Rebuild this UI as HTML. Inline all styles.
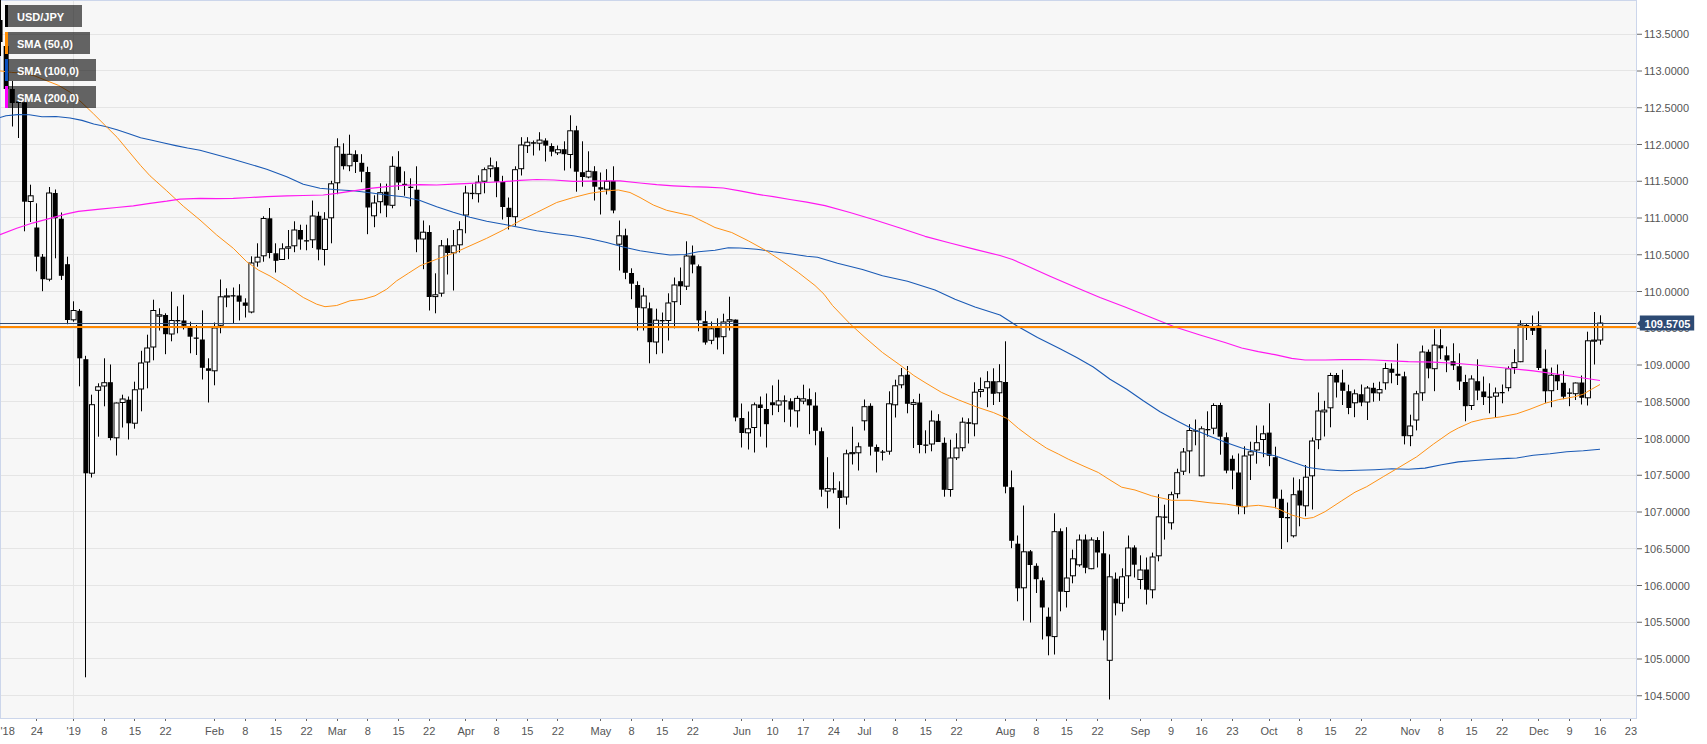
<!DOCTYPE html><html><head><meta charset="utf-8"><title>USD/JPY daily chart</title>
<style>html,body{margin:0;padding:0;background:#fff}body{width:1707px;height:744px;overflow:hidden}svg{display:block}text{font-family:"Liberation Sans",Arial,sans-serif}</style></head><body>
<svg width="1707" height="744" viewBox="0 0 1707 744">
<rect x="0" y="0" width="1707" height="744" fill="#fff"/>
<rect x="0" y="0" width="1636.5" height="718.5" fill="#f7f7f7"/>
<g stroke="#e5e5e5" stroke-width="1" shape-rendering="crispEdges">
<line x1="0" y1="34.5" x2="1636.5" y2="34.5"/>
<line x1="0" y1="70.5" x2="1636.5" y2="70.5"/>
<line x1="0" y1="107.5" x2="1636.5" y2="107.5"/>
<line x1="0" y1="144.5" x2="1636.5" y2="144.5"/>
<line x1="0" y1="181.5" x2="1636.5" y2="181.5"/>
<line x1="0" y1="217.5" x2="1636.5" y2="217.5"/>
<line x1="0" y1="254.5" x2="1636.5" y2="254.5"/>
<line x1="0" y1="291.5" x2="1636.5" y2="291.5"/>
<line x1="0" y1="328.5" x2="1636.5" y2="328.5"/>
<line x1="0" y1="364.5" x2="1636.5" y2="364.5"/>
<line x1="0" y1="401.5" x2="1636.5" y2="401.5"/>
<line x1="0" y1="438.5" x2="1636.5" y2="438.5"/>
<line x1="0" y1="475.5" x2="1636.5" y2="475.5"/>
<line x1="0" y1="511.5" x2="1636.5" y2="511.5"/>
<line x1="0" y1="548.5" x2="1636.5" y2="548.5"/>
<line x1="0" y1="585.5" x2="1636.5" y2="585.5"/>
<line x1="0" y1="622.5" x2="1636.5" y2="622.5"/>
<line x1="0" y1="658.5" x2="1636.5" y2="658.5"/>
<line x1="0" y1="695.5" x2="1636.5" y2="695.5"/>
<line x1="73.5" y1="0" x2="73.5" y2="718.5"/>
</g>
<g stroke="#ccd6eb" stroke-width="1" fill="none"><line x1="0" y1="0.5" x2="1636.5" y2="0.5"/><line x1="0.5" y1="0" x2="0.5" y2="718.5"/><line x1="1636.5" y1="0" x2="1636.5" y2="718.5"/><line x1="0" y1="718.5" x2="1637.0" y2="718.5"/></g>
<clipPath id="pc"><rect x="0" y="0" width="1636.5" height="718.5"/></clipPath>
<g clip-path="url(#pc)">
<g stroke="#000" stroke-width="1">
<line x1="0.50" y1="0.0" x2="0.50" y2="56.0"/>
<rect x="-2.47" y="20.0" width="5" height="22.0" fill="#000" stroke="none"/>
<line x1="6.50" y1="40.0" x2="6.50" y2="89.0"/>
<rect x="3.66" y="46.0" width="5" height="43.0" fill="#000" stroke="none"/>
<line x1="12.50" y1="81.0" x2="12.50" y2="126.5"/>
<rect x="9.79" y="89.0" width="5" height="14.0" fill="#000" stroke="none"/>
<line x1="18.50" y1="101.0" x2="18.50" y2="138.0"/>
<rect x="15.92" y="101.5" width="5" height="1.5" fill="#000" stroke="none"/>
<line x1="24.50" y1="102.3" x2="24.50" y2="231.3"/>
<rect x="22.05" y="102.3" width="5" height="99.4" fill="#000" stroke="none"/>
<line x1="30.50" y1="184.7" x2="30.50" y2="222.0"/>
<rect x="28.18" y="195.8" width="5" height="5.7" fill="#fff"/>
<line x1="36.50" y1="203.3" x2="36.50" y2="271.3"/>
<rect x="34.31" y="227.5" width="5" height="29.2" fill="#000" stroke="none"/>
<line x1="42.50" y1="254.0" x2="42.50" y2="291.2"/>
<rect x="40.44" y="256.7" width="5" height="22.5" fill="#000" stroke="none"/>
<line x1="49.50" y1="187.0" x2="49.50" y2="281.3"/>
<rect x="46.58" y="193.0" width="5" height="86.2" fill="#fff"/>
<line x1="55.50" y1="189.5" x2="55.50" y2="258.3"/>
<rect x="52.71" y="193.0" width="5" height="25.3" fill="#000" stroke="none"/>
<line x1="61.50" y1="212.5" x2="61.50" y2="280.0"/>
<rect x="58.84" y="218.7" width="5" height="57.1" fill="#000" stroke="none"/>
<line x1="67.50" y1="256.7" x2="67.50" y2="324.2"/>
<rect x="64.97" y="264.2" width="5" height="55.8" fill="#000" stroke="none"/>
<line x1="73.50" y1="301.3" x2="73.50" y2="321.7"/>
<rect x="71.10" y="310.5" width="5" height="9.3" fill="#fff"/>
<line x1="79.50" y1="309.0" x2="79.50" y2="386.3"/>
<rect x="77.23" y="310.8" width="5" height="47.5" fill="#000" stroke="none"/>
<line x1="85.50" y1="355.8" x2="85.50" y2="677.3"/>
<rect x="83.36" y="359.2" width="5" height="114.1" fill="#000" stroke="none"/>
<line x1="91.50" y1="394.7" x2="91.50" y2="477.5"/>
<rect x="89.49" y="404.7" width="5" height="68.5" fill="#fff"/>
<line x1="98.50" y1="383.3" x2="98.50" y2="436.7"/>
<rect x="95.62" y="386.8" width="5" height="3.5" fill="#fff"/>
<line x1="104.50" y1="358.3" x2="104.50" y2="406.3"/>
<rect x="101.75" y="382.7" width="5" height="3.3" fill="#fff"/>
<line x1="110.50" y1="364.5" x2="110.50" y2="440.3"/>
<rect x="107.89" y="382.2" width="5" height="55.8" fill="#000" stroke="none"/>
<line x1="116.50" y1="402.5" x2="116.50" y2="455.5"/>
<rect x="114.02" y="403.0" width="5" height="34.8" fill="#fff"/>
<line x1="122.50" y1="394.7" x2="122.50" y2="427.5"/>
<rect x="120.15" y="399.0" width="5" height="3.5" fill="#fff"/>
<line x1="128.50" y1="396.5" x2="128.50" y2="439.5"/>
<rect x="126.28" y="399.7" width="5" height="23.6" fill="#000" stroke="none"/>
<line x1="134.50" y1="381.7" x2="134.50" y2="428.7"/>
<rect x="132.41" y="389.8" width="5" height="33.4" fill="#fff"/>
<line x1="141.50" y1="350.8" x2="141.50" y2="411.3"/>
<rect x="138.54" y="363.0" width="5" height="26.0" fill="#fff"/>
<line x1="147.50" y1="334.7" x2="147.50" y2="388.3"/>
<rect x="144.67" y="348.0" width="5" height="14.0" fill="#fff"/>
<line x1="153.50" y1="299.7" x2="153.50" y2="360.3"/>
<rect x="150.80" y="310.5" width="5" height="36.5" fill="#fff"/>
<line x1="159.50" y1="308.3" x2="159.50" y2="330.5"/>
<rect x="156.93" y="314.8" width="5" height="1.4" fill="#fff"/>
<line x1="165.50" y1="313.3" x2="165.50" y2="354.2"/>
<rect x="163.06" y="315.0" width="5" height="19.2" fill="#000" stroke="none"/>
<line x1="171.50" y1="291.7" x2="171.50" y2="341.3"/>
<rect x="169.20" y="320.5" width="5" height="13.5" fill="#fff"/>
<line x1="177.50" y1="306.3" x2="177.50" y2="333.3"/>
<rect x="175.33" y="320.0" width="5" height="1.3" fill="#000" stroke="none"/>
<line x1="183.50" y1="294.7" x2="183.50" y2="329.5"/>
<rect x="181.46" y="320.5" width="5" height="5.3" fill="#000" stroke="none"/>
<line x1="190.50" y1="321.7" x2="190.50" y2="353.3"/>
<rect x="187.59" y="326.7" width="5" height="10.0" fill="#000" stroke="none"/>
<line x1="196.50" y1="325.0" x2="196.50" y2="355.0"/>
<rect x="193.72" y="337.5" width="5" height="1.3" fill="#000" stroke="none"/>
<line x1="202.50" y1="310.3" x2="202.50" y2="379.5"/>
<rect x="199.85" y="339.5" width="5" height="28.3" fill="#000" stroke="none"/>
<line x1="208.50" y1="358.3" x2="208.50" y2="402.5"/>
<rect x="205.98" y="368.3" width="5" height="2.5" fill="#000" stroke="none"/>
<line x1="214.50" y1="322.5" x2="214.50" y2="385.3"/>
<rect x="212.11" y="328.0" width="5" height="42.8" fill="#fff"/>
<line x1="220.50" y1="279.5" x2="220.50" y2="333.3"/>
<rect x="218.24" y="296.8" width="5" height="28.5" fill="#fff"/>
<line x1="226.50" y1="288.3" x2="226.50" y2="307.2"/>
<rect x="224.38" y="295.9" width="5" height="1.1" fill="#fff"/>
<line x1="233.50" y1="287.5" x2="233.50" y2="323.3"/>
<rect x="230.51" y="295.2" width="5" height="1.3" fill="#000" stroke="none"/>
<line x1="239.50" y1="284.2" x2="239.50" y2="320.5"/>
<rect x="236.64" y="295.5" width="5" height="6.2" fill="#000" stroke="none"/>
<line x1="245.50" y1="298.3" x2="245.50" y2="317.5"/>
<rect x="242.77" y="302.5" width="5" height="3.3" fill="#000" stroke="none"/>
<line x1="251.50" y1="256.3" x2="251.50" y2="313.3"/>
<rect x="248.90" y="263.0" width="5" height="49.0" fill="#fff"/>
<line x1="257.50" y1="243.3" x2="257.50" y2="266.7"/>
<rect x="255.03" y="257.2" width="5" height="4.8" fill="#fff"/>
<line x1="263.50" y1="216.3" x2="263.50" y2="261.7"/>
<rect x="261.16" y="218.5" width="5" height="37.3" fill="#fff"/>
<line x1="269.50" y1="208.0" x2="269.50" y2="258.3"/>
<rect x="267.29" y="218.3" width="5" height="34.7" fill="#000" stroke="none"/>
<line x1="275.50" y1="243.3" x2="275.50" y2="272.5"/>
<rect x="273.42" y="253.3" width="5" height="7.5" fill="#000" stroke="none"/>
<line x1="282.50" y1="243.3" x2="282.50" y2="260.0"/>
<rect x="279.55" y="248.8" width="5" height="10.7" fill="#fff"/>
<line x1="288.50" y1="230.0" x2="288.50" y2="259.2"/>
<rect x="285.69" y="246.8" width="5" height="1.4" fill="#fff"/>
<line x1="294.50" y1="221.3" x2="294.50" y2="252.2"/>
<rect x="291.82" y="230.0" width="5" height="15.8" fill="#fff"/>
<line x1="300.50" y1="224.7" x2="300.50" y2="249.7"/>
<rect x="297.95" y="230.0" width="5" height="9.5" fill="#000" stroke="none"/>
<line x1="306.50" y1="224.7" x2="306.50" y2="250.3"/>
<rect x="304.08" y="240.2" width="5" height="1.3" fill="#000" stroke="none"/>
<line x1="312.50" y1="200.5" x2="312.50" y2="248.0"/>
<rect x="310.21" y="216.0" width="5" height="23.8" fill="#fff"/>
<line x1="318.50" y1="211.7" x2="318.50" y2="260.3"/>
<rect x="316.34" y="215.8" width="5" height="33.7" fill="#000" stroke="none"/>
<line x1="324.50" y1="212.2" x2="324.50" y2="265.5"/>
<rect x="322.47" y="219.2" width="5" height="30.3" fill="#fff"/>
<line x1="331.50" y1="180.8" x2="331.50" y2="243.3"/>
<rect x="328.60" y="183.8" width="5" height="34.0" fill="#fff"/>
<line x1="337.50" y1="138.3" x2="337.50" y2="194.2"/>
<rect x="334.73" y="146.8" width="5" height="36.0" fill="#fff"/>
<line x1="343.50" y1="143.3" x2="343.50" y2="169.5"/>
<rect x="340.86" y="153.8" width="5" height="12.4" fill="#000" stroke="none"/>
<line x1="349.50" y1="134.7" x2="349.50" y2="171.2"/>
<rect x="347.00" y="154.3" width="5" height="11.5" fill="#fff"/>
<line x1="355.50" y1="150.3" x2="355.50" y2="173.0"/>
<rect x="353.13" y="154.2" width="5" height="7.8" fill="#000" stroke="none"/>
<line x1="361.50" y1="154.2" x2="361.50" y2="182.2"/>
<rect x="359.26" y="162.8" width="5" height="8.9" fill="#000" stroke="none"/>
<line x1="367.50" y1="166.7" x2="367.50" y2="234.2"/>
<rect x="365.39" y="172.0" width="5" height="35.5" fill="#000" stroke="none"/>
<line x1="374.50" y1="195.3" x2="374.50" y2="227.2"/>
<rect x="371.52" y="203.0" width="5" height="12.8" fill="#fff"/>
<line x1="380.50" y1="183.3" x2="380.50" y2="213.3"/>
<rect x="377.65" y="192.7" width="5" height="9.0" fill="#fff"/>
<line x1="386.50" y1="183.7" x2="386.50" y2="217.2"/>
<rect x="383.78" y="191.7" width="5" height="13.8" fill="#000" stroke="none"/>
<line x1="392.50" y1="156.3" x2="392.50" y2="208.3"/>
<rect x="389.91" y="166.3" width="5" height="39.0" fill="#fff"/>
<line x1="398.50" y1="151.2" x2="398.50" y2="190.0"/>
<rect x="396.04" y="166.7" width="5" height="15.8" fill="#000" stroke="none"/>
<line x1="404.50" y1="171.3" x2="404.50" y2="195.8"/>
<rect x="402.17" y="183.8" width="5" height="1.3" fill="#000" stroke="none"/>
<line x1="410.50" y1="178.3" x2="410.50" y2="206.3"/>
<rect x="408.31" y="186.7" width="5" height="1.3" fill="#000" stroke="none"/>
<line x1="416.50" y1="166.3" x2="416.50" y2="252.2"/>
<rect x="414.44" y="189.7" width="5" height="49.8" fill="#000" stroke="none"/>
<line x1="423.50" y1="220.5" x2="423.50" y2="269.2"/>
<rect x="420.57" y="232.2" width="5" height="6.8" fill="#fff"/>
<line x1="429.50" y1="225.3" x2="429.50" y2="310.5"/>
<rect x="426.70" y="232.0" width="5" height="65.0" fill="#000" stroke="none"/>
<line x1="435.50" y1="273.3" x2="435.50" y2="313.3"/>
<rect x="432.83" y="294.8" width="5" height="1.8" fill="#fff"/>
<line x1="441.50" y1="240.0" x2="441.50" y2="296.7"/>
<rect x="438.96" y="245.8" width="5" height="47.4" fill="#fff"/>
<line x1="447.50" y1="238.3" x2="447.50" y2="274.5"/>
<rect x="445.09" y="245.3" width="5" height="7.7" fill="#000" stroke="none"/>
<line x1="453.50" y1="230.0" x2="453.50" y2="290.5"/>
<rect x="451.22" y="245.8" width="5" height="7.0" fill="#fff"/>
<line x1="459.50" y1="221.2" x2="459.50" y2="252.5"/>
<rect x="457.35" y="229.7" width="5" height="15.1" fill="#fff"/>
<line x1="465.50" y1="185.8" x2="465.50" y2="233.3"/>
<rect x="463.48" y="193.0" width="5" height="22.0" fill="#fff"/>
<line x1="472.50" y1="184.2" x2="472.50" y2="199.2"/>
<rect x="469.62" y="192.8" width="5" height="1.3" fill="#000" stroke="none"/>
<line x1="478.50" y1="175.3" x2="478.50" y2="202.5"/>
<rect x="475.75" y="182.2" width="5" height="11.5" fill="#fff"/>
<line x1="484.50" y1="167.5" x2="484.50" y2="193.3"/>
<rect x="481.88" y="169.7" width="5" height="11.5" fill="#fff"/>
<line x1="490.50" y1="157.5" x2="490.50" y2="177.2"/>
<rect x="488.01" y="165.9" width="5" height="2.8" fill="#fff"/>
<line x1="496.50" y1="161.3" x2="496.50" y2="197.2"/>
<rect x="494.14" y="167.2" width="5" height="14.5" fill="#000" stroke="none"/>
<line x1="502.50" y1="175.8" x2="502.50" y2="219.5"/>
<rect x="500.27" y="182.0" width="5" height="25.0" fill="#000" stroke="none"/>
<line x1="508.50" y1="197.5" x2="508.50" y2="229.5"/>
<rect x="506.40" y="207.8" width="5" height="9.2" fill="#000" stroke="none"/>
<line x1="515.50" y1="166.3" x2="515.50" y2="225.8"/>
<rect x="512.53" y="169.7" width="5" height="47.0" fill="#fff"/>
<line x1="521.50" y1="137.2" x2="521.50" y2="175.5"/>
<rect x="518.66" y="145.0" width="5" height="23.7" fill="#fff"/>
<line x1="527.50" y1="137.2" x2="527.50" y2="153.0"/>
<rect x="524.79" y="142.2" width="5" height="3.5" fill="#fff"/>
<line x1="533.50" y1="140.5" x2="533.50" y2="155.5"/>
<rect x="530.93" y="142.2" width="5" height="1.5" fill="#000" stroke="none"/>
<line x1="539.50" y1="132.2" x2="539.50" y2="150.5"/>
<rect x="537.06" y="140.1" width="5" height="3.1" fill="#fff"/>
<line x1="545.50" y1="138.3" x2="545.50" y2="161.5"/>
<rect x="543.19" y="140.5" width="5" height="5.1" fill="#000" stroke="none"/>
<line x1="551.50" y1="143.3" x2="551.50" y2="156.3"/>
<rect x="549.32" y="146.0" width="5" height="5.7" fill="#000" stroke="none"/>
<line x1="557.50" y1="145.5" x2="557.50" y2="155.0"/>
<rect x="555.45" y="149.7" width="5" height="3.1" fill="#fff"/>
<line x1="564.50" y1="141.3" x2="564.50" y2="170.5"/>
<rect x="561.58" y="149.2" width="5" height="5.0" fill="#000" stroke="none"/>
<line x1="570.50" y1="115.3" x2="570.50" y2="168.3"/>
<rect x="567.71" y="130.8" width="5" height="23.7" fill="#fff"/>
<line x1="576.50" y1="125.8" x2="576.50" y2="191.7"/>
<rect x="573.84" y="130.3" width="5" height="41.4" fill="#000" stroke="none"/>
<line x1="582.50" y1="141.3" x2="582.50" y2="186.7"/>
<rect x="579.97" y="172.2" width="5" height="4.8" fill="#000" stroke="none"/>
<line x1="588.50" y1="151.3" x2="588.50" y2="178.3"/>
<rect x="586.10" y="171.3" width="5" height="5.7" fill="#fff"/>
<line x1="594.50" y1="166.2" x2="594.50" y2="200.5"/>
<rect x="592.24" y="171.2" width="5" height="15.5" fill="#000" stroke="none"/>
<line x1="600.50" y1="172.5" x2="600.50" y2="214.5"/>
<rect x="598.37" y="187.2" width="5" height="2.3" fill="#000" stroke="none"/>
<line x1="606.50" y1="169.2" x2="606.50" y2="194.5"/>
<rect x="604.50" y="181.3" width="5" height="7.9" fill="#fff"/>
<line x1="613.50" y1="166.3" x2="613.50" y2="213.3"/>
<rect x="610.63" y="180.8" width="5" height="29.7" fill="#000" stroke="none"/>
<line x1="619.50" y1="220.5" x2="619.50" y2="270.5"/>
<rect x="616.76" y="235.8" width="5" height="8.4" fill="#fff"/>
<line x1="625.50" y1="228.7" x2="625.50" y2="279.2"/>
<rect x="622.89" y="235.3" width="5" height="37.5" fill="#000" stroke="none"/>
<line x1="631.50" y1="268.3" x2="631.50" y2="299.2"/>
<rect x="629.02" y="273.0" width="5" height="10.7" fill="#000" stroke="none"/>
<line x1="637.50" y1="281.3" x2="637.50" y2="330.5"/>
<rect x="635.15" y="285.0" width="5" height="22.8" fill="#000" stroke="none"/>
<line x1="643.50" y1="287.8" x2="643.50" y2="330.5"/>
<rect x="641.28" y="296.0" width="5" height="11.8" fill="#fff"/>
<line x1="649.50" y1="302.5" x2="649.50" y2="363.3"/>
<rect x="647.41" y="308.3" width="5" height="33.9" fill="#000" stroke="none"/>
<line x1="656.50" y1="308.7" x2="656.50" y2="354.2"/>
<rect x="653.55" y="320.2" width="5" height="21.8" fill="#fff"/>
<line x1="662.50" y1="312.5" x2="662.50" y2="353.3"/>
<rect x="659.68" y="320.0" width="5" height="1.3" fill="#000" stroke="none"/>
<line x1="668.50" y1="293.3" x2="668.50" y2="340.5"/>
<rect x="665.81" y="303.0" width="5" height="17.5" fill="#fff"/>
<line x1="674.50" y1="277.5" x2="674.50" y2="328.3"/>
<rect x="671.94" y="285.0" width="5" height="16.7" fill="#fff"/>
<line x1="680.50" y1="267.5" x2="680.50" y2="305.0"/>
<rect x="678.07" y="281.2" width="5" height="5.1" fill="#000" stroke="none"/>
<line x1="686.50" y1="241.3" x2="686.50" y2="290.0"/>
<rect x="684.20" y="256.0" width="5" height="30.2" fill="#fff"/>
<line x1="692.50" y1="245.5" x2="692.50" y2="273.3"/>
<rect x="690.33" y="255.5" width="5" height="9.0" fill="#000" stroke="none"/>
<line x1="698.50" y1="264.5" x2="698.50" y2="331.3"/>
<rect x="696.46" y="266.2" width="5" height="54.2" fill="#000" stroke="none"/>
<line x1="705.50" y1="310.8" x2="705.50" y2="344.7"/>
<rect x="702.59" y="321.2" width="5" height="21.3" fill="#000" stroke="none"/>
<line x1="711.50" y1="321.5" x2="711.50" y2="344.2"/>
<rect x="708.72" y="328.8" width="5" height="11.5" fill="#fff"/>
<line x1="717.50" y1="318.3" x2="717.50" y2="349.5"/>
<rect x="714.86" y="327.7" width="5" height="9.8" fill="#000" stroke="none"/>
<line x1="723.50" y1="313.7" x2="723.50" y2="354.2"/>
<rect x="720.99" y="322.0" width="5" height="14.7" fill="#fff"/>
<line x1="729.50" y1="296.7" x2="729.50" y2="330.5"/>
<rect x="727.12" y="319.7" width="5" height="1.5" fill="#fff"/>
<line x1="735.50" y1="319.5" x2="735.50" y2="421.3"/>
<rect x="733.25" y="319.6" width="5" height="97.9" fill="#000" stroke="none"/>
<line x1="741.50" y1="403.5" x2="741.50" y2="447.5"/>
<rect x="739.38" y="418.0" width="5" height="15.0" fill="#000" stroke="none"/>
<line x1="748.50" y1="411.5" x2="748.50" y2="449.5"/>
<rect x="745.51" y="428.8" width="5" height="4.0" fill="#fff"/>
<line x1="754.50" y1="402.5" x2="754.50" y2="452.5"/>
<rect x="751.64" y="404.8" width="5" height="22.7" fill="#fff"/>
<line x1="760.50" y1="396.5" x2="760.50" y2="436.7"/>
<rect x="757.77" y="404.5" width="5" height="3.5" fill="#000" stroke="none"/>
<line x1="766.50" y1="393.5" x2="766.50" y2="447.5"/>
<rect x="763.90" y="409.0" width="5" height="15.2" fill="#000" stroke="none"/>
<line x1="772.50" y1="385.4" x2="772.50" y2="415.2"/>
<rect x="770.03" y="402.3" width="5" height="2.9" fill="#000" stroke="none"/>
<line x1="778.50" y1="379.7" x2="778.50" y2="412.1"/>
<rect x="776.17" y="400.9" width="5" height="4.1" fill="#fff"/>
<line x1="784.50" y1="395.4" x2="784.50" y2="422.2"/>
<rect x="782.30" y="400.3" width="5" height="1.3" fill="#000" stroke="none"/>
<line x1="790.50" y1="398.3" x2="790.50" y2="426.7"/>
<rect x="788.43" y="401.2" width="5" height="8.4" fill="#000" stroke="none"/>
<line x1="797.50" y1="395.8" x2="797.50" y2="427.5"/>
<rect x="794.56" y="398.4" width="5" height="12.4" fill="#fff"/>
<line x1="803.50" y1="384.7" x2="803.50" y2="404.2"/>
<rect x="800.69" y="398.8" width="5" height="2.3" fill="#fff"/>
<line x1="809.50" y1="388.5" x2="809.50" y2="434.2"/>
<rect x="806.82" y="399.2" width="5" height="6.2" fill="#000" stroke="none"/>
<line x1="815.50" y1="392.3" x2="815.50" y2="445.3"/>
<rect x="812.95" y="405.6" width="5" height="25.2" fill="#000" stroke="none"/>
<line x1="821.50" y1="427.5" x2="821.50" y2="496.7"/>
<rect x="819.08" y="431.2" width="5" height="58.5" fill="#000" stroke="none"/>
<line x1="827.50" y1="457.2" x2="827.50" y2="508.3"/>
<rect x="825.21" y="488.6" width="5" height="2.5" fill="#fff"/>
<line x1="833.50" y1="472.3" x2="833.50" y2="493.3"/>
<rect x="831.34" y="488.3" width="5" height="1.3" fill="#000" stroke="none"/>
<line x1="839.50" y1="481.3" x2="839.50" y2="528.7"/>
<rect x="837.48" y="490.3" width="5" height="7.7" fill="#000" stroke="none"/>
<line x1="846.50" y1="449.7" x2="846.50" y2="504.7"/>
<rect x="843.61" y="453.8" width="5" height="43.2" fill="#fff"/>
<line x1="852.50" y1="426.7" x2="852.50" y2="464.5"/>
<rect x="849.74" y="452.6" width="5" height="1.1" fill="#fff"/>
<line x1="858.50" y1="442.5" x2="858.50" y2="470.5"/>
<rect x="855.87" y="446.8" width="5" height="6.0" fill="#fff"/>
<line x1="864.50" y1="399.5" x2="864.50" y2="430.5"/>
<rect x="862.00" y="406.7" width="5" height="14.1" fill="#fff"/>
<line x1="870.50" y1="403.3" x2="870.50" y2="455.5"/>
<rect x="868.13" y="405.8" width="5" height="40.9" fill="#000" stroke="none"/>
<line x1="876.50" y1="444.5" x2="876.50" y2="472.5"/>
<rect x="874.26" y="447.0" width="5" height="4.7" fill="#000" stroke="none"/>
<line x1="882.50" y1="450.0" x2="882.50" y2="460.5"/>
<rect x="880.39" y="451.5" width="5" height="1.3" fill="#000" stroke="none"/>
<line x1="889.50" y1="391.3" x2="889.50" y2="454.7"/>
<rect x="886.52" y="403.8" width="5" height="47.4" fill="#fff"/>
<line x1="895.50" y1="379.7" x2="895.50" y2="417.5"/>
<rect x="892.65" y="385.8" width="5" height="19.0" fill="#fff"/>
<line x1="901.50" y1="368.0" x2="901.50" y2="388.3"/>
<rect x="898.79" y="375.8" width="5" height="9.0" fill="#fff"/>
<line x1="907.50" y1="366.0" x2="907.50" y2="413.3"/>
<rect x="904.92" y="374.7" width="5" height="29.1" fill="#000" stroke="none"/>
<line x1="913.50" y1="399.2" x2="913.50" y2="448.0"/>
<rect x="911.05" y="402.6" width="5" height="1.8" fill="#fff"/>
<line x1="919.50" y1="393.7" x2="919.50" y2="453.3"/>
<rect x="917.18" y="402.5" width="5" height="42.5" fill="#000" stroke="none"/>
<line x1="925.50" y1="430.3" x2="925.50" y2="453.3"/>
<rect x="923.31" y="444.5" width="5" height="1.3" fill="#000" stroke="none"/>
<line x1="931.50" y1="410.5" x2="931.50" y2="451.3"/>
<rect x="929.44" y="421.0" width="5" height="23.0" fill="#fff"/>
<line x1="938.50" y1="414.2" x2="938.50" y2="442.0"/>
<rect x="935.57" y="420.8" width="5" height="21.2" fill="#000" stroke="none"/>
<line x1="944.50" y1="437.5" x2="944.50" y2="496.7"/>
<rect x="941.70" y="442.8" width="5" height="47.0" fill="#000" stroke="none"/>
<line x1="950.50" y1="439.7" x2="950.50" y2="496.7"/>
<rect x="947.83" y="458.0" width="5" height="31.5" fill="#fff"/>
<line x1="956.50" y1="433.3" x2="956.50" y2="460.0"/>
<rect x="953.96" y="448.0" width="5" height="9.8" fill="#fff"/>
<line x1="962.50" y1="417.5" x2="962.50" y2="451.3"/>
<rect x="960.10" y="422.2" width="5" height="25.5" fill="#fff"/>
<line x1="968.50" y1="418.3" x2="968.50" y2="443.5"/>
<rect x="966.23" y="422.2" width="5" height="1.6" fill="#000" stroke="none"/>
<line x1="974.50" y1="382.3" x2="974.50" y2="436.3"/>
<rect x="972.36" y="392.2" width="5" height="31.6" fill="#fff"/>
<line x1="980.50" y1="377.5" x2="980.50" y2="397.3"/>
<rect x="978.49" y="389.6" width="5" height="1.8" fill="#fff"/>
<line x1="987.50" y1="371.2" x2="987.50" y2="407.2"/>
<rect x="984.62" y="381.7" width="5" height="6.1" fill="#fff"/>
<line x1="993.50" y1="368.3" x2="993.50" y2="405.0"/>
<rect x="990.75" y="381.2" width="5" height="12.6" fill="#000" stroke="none"/>
<line x1="999.50" y1="364.2" x2="999.50" y2="402.0"/>
<rect x="996.88" y="381.7" width="5" height="11.1" fill="#fff"/>
<line x1="1005.50" y1="341.3" x2="1005.50" y2="493.3"/>
<rect x="1003.01" y="382.0" width="5" height="104.7" fill="#000" stroke="none"/>
<line x1="1011.50" y1="470.5" x2="1011.50" y2="548.2"/>
<rect x="1009.14" y="487.2" width="5" height="53.6" fill="#000" stroke="none"/>
<line x1="1017.50" y1="535.5" x2="1017.50" y2="601.3"/>
<rect x="1015.27" y="543.7" width="5" height="44.6" fill="#000" stroke="none"/>
<line x1="1023.50" y1="505.5" x2="1023.50" y2="620.5"/>
<rect x="1021.41" y="551.8" width="5" height="36.0" fill="#fff"/>
<line x1="1030.50" y1="550.0" x2="1030.50" y2="622.5"/>
<rect x="1027.54" y="551.3" width="5" height="13.7" fill="#000" stroke="none"/>
<line x1="1036.50" y1="563.3" x2="1036.50" y2="593.0"/>
<rect x="1033.67" y="565.8" width="5" height="13.4" fill="#000" stroke="none"/>
<line x1="1042.50" y1="577.5" x2="1042.50" y2="639.5"/>
<rect x="1039.80" y="580.3" width="5" height="27.2" fill="#000" stroke="none"/>
<line x1="1048.50" y1="607.5" x2="1048.50" y2="655.3"/>
<rect x="1045.93" y="616.7" width="5" height="19.6" fill="#000" stroke="none"/>
<line x1="1054.50" y1="513.3" x2="1054.50" y2="654.5"/>
<rect x="1052.06" y="531.7" width="5" height="104.9" fill="#fff"/>
<line x1="1060.50" y1="528.4" x2="1060.50" y2="611.3"/>
<rect x="1058.19" y="531.2" width="5" height="60.5" fill="#000" stroke="none"/>
<line x1="1066.50" y1="527.2" x2="1066.50" y2="607.5"/>
<rect x="1064.32" y="578.0" width="5" height="13.5" fill="#fff"/>
<line x1="1072.50" y1="549.6" x2="1072.50" y2="583.3"/>
<rect x="1070.45" y="558.8" width="5" height="17.0" fill="#fff"/>
<line x1="1079.50" y1="534.5" x2="1079.50" y2="566.7"/>
<rect x="1076.58" y="540.0" width="5" height="24.8" fill="#fff"/>
<line x1="1085.50" y1="534.5" x2="1085.50" y2="573.3"/>
<rect x="1082.71" y="539.5" width="5" height="28.3" fill="#000" stroke="none"/>
<line x1="1091.50" y1="537.3" x2="1091.50" y2="569.2"/>
<rect x="1088.85" y="540.0" width="5" height="28.7" fill="#fff"/>
<line x1="1097.50" y1="537.2" x2="1097.50" y2="567.5"/>
<rect x="1094.98" y="540.0" width="5" height="12.5" fill="#000" stroke="none"/>
<line x1="1103.50" y1="531.3" x2="1103.50" y2="640.4"/>
<rect x="1101.11" y="553.3" width="5" height="77.1" fill="#000" stroke="none"/>
<line x1="1109.50" y1="554.4" x2="1109.50" y2="699.5"/>
<rect x="1107.24" y="576.8" width="5" height="83.5" fill="#fff"/>
<line x1="1115.50" y1="572.5" x2="1115.50" y2="615.4"/>
<rect x="1113.37" y="578.7" width="5" height="24.6" fill="#000" stroke="none"/>
<line x1="1122.50" y1="568.3" x2="1122.50" y2="611.5"/>
<rect x="1119.50" y="576.8" width="5" height="26.5" fill="#fff"/>
<line x1="1128.50" y1="535.5" x2="1128.50" y2="598.3"/>
<rect x="1125.63" y="548.0" width="5" height="27.8" fill="#fff"/>
<line x1="1134.50" y1="545.3" x2="1134.50" y2="577.5"/>
<rect x="1131.76" y="547.5" width="5" height="17.2" fill="#000" stroke="none"/>
<line x1="1140.50" y1="555.3" x2="1140.50" y2="589.2"/>
<rect x="1137.89" y="570.0" width="5" height="9.5" fill="#fff"/>
<line x1="1146.50" y1="557.5" x2="1146.50" y2="604.5"/>
<rect x="1144.02" y="569.5" width="5" height="20.2" fill="#000" stroke="none"/>
<line x1="1152.50" y1="552.6" x2="1152.50" y2="598.3"/>
<rect x="1150.16" y="557.0" width="5" height="32.8" fill="#fff"/>
<line x1="1158.50" y1="494.2" x2="1158.50" y2="561.3"/>
<rect x="1156.29" y="516.8" width="5" height="39.0" fill="#fff"/>
<line x1="1164.50" y1="504.7" x2="1164.50" y2="539.6"/>
<rect x="1162.42" y="516.5" width="5" height="1.3" fill="#000" stroke="none"/>
<line x1="1171.50" y1="491.7" x2="1171.50" y2="529.5"/>
<rect x="1168.55" y="494.7" width="5" height="28.1" fill="#fff"/>
<line x1="1177.50" y1="468.7" x2="1177.50" y2="498.3"/>
<rect x="1174.68" y="472.7" width="5" height="21.0" fill="#fff"/>
<line x1="1183.50" y1="448.0" x2="1183.50" y2="475.0"/>
<rect x="1180.81" y="452.0" width="5" height="19.2" fill="#fff"/>
<line x1="1189.50" y1="424.2" x2="1189.50" y2="473.3"/>
<rect x="1186.94" y="430.5" width="5" height="20.4" fill="#fff"/>
<line x1="1195.50" y1="419.5" x2="1195.50" y2="445.3"/>
<rect x="1193.07" y="430.3" width="5" height="1.3" fill="#000" stroke="none"/>
<line x1="1201.50" y1="426.3" x2="1201.50" y2="476.3"/>
<rect x="1199.20" y="428.8" width="5" height="47.0" fill="#fff"/>
<line x1="1207.50" y1="411.3" x2="1207.50" y2="436.7"/>
<rect x="1205.34" y="429.0" width="5" height="1.3" fill="#000" stroke="none"/>
<line x1="1213.50" y1="403.3" x2="1213.50" y2="434.2"/>
<rect x="1211.47" y="405.5" width="5" height="22.7" fill="#fff"/>
<line x1="1220.50" y1="402.8" x2="1220.50" y2="454.7"/>
<rect x="1217.60" y="405.0" width="5" height="31.7" fill="#000" stroke="none"/>
<line x1="1226.50" y1="432.5" x2="1226.50" y2="473.3"/>
<rect x="1223.73" y="437.2" width="5" height="33.4" fill="#000" stroke="none"/>
<line x1="1232.50" y1="455.4" x2="1232.50" y2="489.3"/>
<rect x="1229.86" y="458.8" width="5" height="11.8" fill="#000" stroke="none"/>
<line x1="1238.50" y1="453.5" x2="1238.50" y2="514.3"/>
<rect x="1235.99" y="472.5" width="5" height="33.7" fill="#000" stroke="none"/>
<line x1="1244.50" y1="446.3" x2="1244.50" y2="514.2"/>
<rect x="1242.12" y="456.0" width="5" height="50.7" fill="#fff"/>
<line x1="1250.50" y1="441.7" x2="1250.50" y2="480.0"/>
<rect x="1248.25" y="451.8" width="5" height="3.2" fill="#fff"/>
<line x1="1256.50" y1="425.5" x2="1256.50" y2="463.7"/>
<rect x="1254.38" y="442.7" width="5" height="7.3" fill="#fff"/>
<line x1="1263.50" y1="425.5" x2="1263.50" y2="457.2"/>
<rect x="1260.51" y="433.8" width="5" height="5.7" fill="#fff"/>
<line x1="1269.50" y1="403.3" x2="1269.50" y2="466.2"/>
<rect x="1266.64" y="432.6" width="5" height="23.2" fill="#000" stroke="none"/>
<line x1="1275.50" y1="446.7" x2="1275.50" y2="508.3"/>
<rect x="1272.78" y="457.2" width="5" height="41.5" fill="#000" stroke="none"/>
<line x1="1281.50" y1="489.7" x2="1281.50" y2="549.0"/>
<rect x="1278.91" y="498.8" width="5" height="19.2" fill="#000" stroke="none"/>
<line x1="1287.50" y1="502.5" x2="1287.50" y2="542.2"/>
<rect x="1285.04" y="517.0" width="5" height="1.3" fill="#000" stroke="none"/>
<line x1="1293.50" y1="477.5" x2="1293.50" y2="537.5"/>
<rect x="1291.17" y="494.7" width="5" height="41.1" fill="#fff"/>
<line x1="1299.50" y1="479.2" x2="1299.50" y2="526.3"/>
<rect x="1297.30" y="490.5" width="5" height="15.0" fill="#000" stroke="none"/>
<line x1="1305.50" y1="465.0" x2="1305.50" y2="516.3"/>
<rect x="1303.43" y="477.2" width="5" height="28.6" fill="#fff"/>
<line x1="1312.50" y1="437.5" x2="1312.50" y2="509.5"/>
<rect x="1309.56" y="441.0" width="5" height="34.8" fill="#fff"/>
<line x1="1318.50" y1="392.5" x2="1318.50" y2="449.2"/>
<rect x="1315.69" y="411.0" width="5" height="28.7" fill="#fff"/>
<line x1="1324.50" y1="400.8" x2="1324.50" y2="436.5"/>
<rect x="1321.82" y="410.1" width="5" height="1.8" fill="#fff"/>
<line x1="1330.50" y1="372.8" x2="1330.50" y2="427.3"/>
<rect x="1327.95" y="375.5" width="5" height="32.3" fill="#fff"/>
<line x1="1336.50" y1="373.0" x2="1336.50" y2="397.5"/>
<rect x="1334.09" y="375.0" width="5" height="7.5" fill="#000" stroke="none"/>
<line x1="1342.50" y1="369.7" x2="1342.50" y2="405.0"/>
<rect x="1340.22" y="382.5" width="5" height="8.3" fill="#000" stroke="none"/>
<line x1="1348.50" y1="384.7" x2="1348.50" y2="414.2"/>
<rect x="1346.35" y="391.2" width="5" height="16.8" fill="#000" stroke="none"/>
<line x1="1354.50" y1="389.5" x2="1354.50" y2="417.2"/>
<rect x="1352.48" y="393.8" width="5" height="9.0" fill="#fff"/>
<line x1="1361.50" y1="384.5" x2="1361.50" y2="406.2"/>
<rect x="1358.61" y="394.2" width="5" height="8.3" fill="#000" stroke="none"/>
<line x1="1367.50" y1="386.0" x2="1367.50" y2="420.0"/>
<rect x="1364.74" y="388.0" width="5" height="14.0" fill="#fff"/>
<line x1="1373.50" y1="382.8" x2="1373.50" y2="401.7"/>
<rect x="1370.87" y="387.8" width="5" height="5.5" fill="#000" stroke="none"/>
<line x1="1379.50" y1="381.7" x2="1379.50" y2="400.8"/>
<rect x="1377.00" y="389.6" width="5" height="3.3" fill="#fff"/>
<line x1="1385.50" y1="362.8" x2="1385.50" y2="389.7"/>
<rect x="1383.13" y="368.5" width="5" height="14.3" fill="#fff"/>
<line x1="1391.50" y1="363.3" x2="1391.50" y2="383.3"/>
<rect x="1389.26" y="368.7" width="5" height="4.1" fill="#000" stroke="none"/>
<line x1="1397.50" y1="343.7" x2="1397.50" y2="385.0"/>
<rect x="1395.40" y="373.8" width="5" height="2.0" fill="#000" stroke="none"/>
<line x1="1404.50" y1="371.7" x2="1404.50" y2="444.4"/>
<rect x="1401.53" y="376.3" width="5" height="59.9" fill="#000" stroke="none"/>
<line x1="1410.50" y1="414.7" x2="1410.50" y2="446.2"/>
<rect x="1407.66" y="426.0" width="5" height="9.7" fill="#fff"/>
<line x1="1416.50" y1="390.8" x2="1416.50" y2="430.4"/>
<rect x="1413.79" y="393.8" width="5" height="26.2" fill="#fff"/>
<line x1="1422.50" y1="345.5" x2="1422.50" y2="400.8"/>
<rect x="1419.92" y="352.0" width="5" height="40.8" fill="#fff"/>
<line x1="1428.50" y1="349.5" x2="1428.50" y2="378.3"/>
<rect x="1426.05" y="351.8" width="5" height="16.7" fill="#000" stroke="none"/>
<line x1="1434.50" y1="329.2" x2="1434.50" y2="391.2"/>
<rect x="1432.18" y="345.1" width="5" height="23.6" fill="#fff"/>
<line x1="1440.50" y1="329.2" x2="1440.50" y2="359.2"/>
<rect x="1438.31" y="345.2" width="5" height="3.1" fill="#000" stroke="none"/>
<line x1="1446.50" y1="346.5" x2="1446.50" y2="372.2"/>
<rect x="1444.44" y="355.3" width="5" height="5.2" fill="#000" stroke="none"/>
<line x1="1453.50" y1="343.3" x2="1453.50" y2="370.0"/>
<rect x="1450.58" y="361.2" width="5" height="4.3" fill="#000" stroke="none"/>
<line x1="1459.50" y1="353.3" x2="1459.50" y2="390.0"/>
<rect x="1456.71" y="366.2" width="5" height="15.3" fill="#000" stroke="none"/>
<line x1="1465.50" y1="374.8" x2="1465.50" y2="421.3"/>
<rect x="1462.84" y="382.0" width="5" height="24.2" fill="#000" stroke="none"/>
<line x1="1471.50" y1="375.3" x2="1471.50" y2="410.0"/>
<rect x="1468.97" y="379.0" width="5" height="26.5" fill="#fff"/>
<line x1="1477.50" y1="359.3" x2="1477.50" y2="400.2"/>
<rect x="1475.10" y="381.2" width="5" height="9.4" fill="#000" stroke="none"/>
<line x1="1483.50" y1="376.5" x2="1483.50" y2="405.0"/>
<rect x="1481.23" y="391.5" width="5" height="5.6" fill="#000" stroke="none"/>
<line x1="1489.50" y1="383.3" x2="1489.50" y2="413.3"/>
<rect x="1487.36" y="396.5" width="5" height="1.3" fill="#000" stroke="none"/>
<line x1="1495.50" y1="387.5" x2="1495.50" y2="417.8"/>
<rect x="1493.49" y="392.9" width="5" height="3.3" fill="#fff"/>
<line x1="1502.50" y1="384.5" x2="1502.50" y2="403.3"/>
<rect x="1499.62" y="392.0" width="5" height="1.3" fill="#000" stroke="none"/>
<line x1="1508.50" y1="366.3" x2="1508.50" y2="391.3"/>
<rect x="1505.75" y="368.8" width="5" height="18.9" fill="#fff"/>
<line x1="1514.50" y1="349.2" x2="1514.50" y2="373.8"/>
<rect x="1511.88" y="362.7" width="5" height="4.8" fill="#fff"/>
<line x1="1520.50" y1="320.3" x2="1520.50" y2="362.2"/>
<rect x="1518.02" y="325.0" width="5" height="36.7" fill="#fff"/>
<line x1="1526.50" y1="324.0" x2="1526.50" y2="340.0"/>
<rect x="1524.15" y="325.0" width="5" height="1.3" fill="#000" stroke="none"/>
<line x1="1532.50" y1="315.5" x2="1532.50" y2="335.0"/>
<rect x="1530.28" y="328.0" width="5" height="2.8" fill="#000" stroke="none"/>
<line x1="1538.50" y1="311.3" x2="1538.50" y2="370.0"/>
<rect x="1536.41" y="325.5" width="5" height="42.5" fill="#000" stroke="none"/>
<line x1="1545.50" y1="349.5" x2="1545.50" y2="402.8"/>
<rect x="1542.54" y="368.7" width="5" height="22.6" fill="#000" stroke="none"/>
<line x1="1551.50" y1="367.5" x2="1551.50" y2="407.2"/>
<rect x="1548.67" y="375.2" width="5" height="15.5" fill="#fff"/>
<line x1="1557.50" y1="364.5" x2="1557.50" y2="390.0"/>
<rect x="1554.80" y="375.0" width="5" height="6.3" fill="#000" stroke="none"/>
<line x1="1563.50" y1="370.8" x2="1563.50" y2="399.2"/>
<rect x="1560.93" y="382.8" width="5" height="13.9" fill="#000" stroke="none"/>
<line x1="1569.50" y1="388.3" x2="1569.50" y2="406.2"/>
<rect x="1567.06" y="392.5" width="5" height="1.3" fill="#000" stroke="none"/>
<line x1="1575.50" y1="382.5" x2="1575.50" y2="400.0"/>
<rect x="1573.19" y="383.0" width="5" height="10.7" fill="#fff"/>
<line x1="1581.50" y1="375.5" x2="1581.50" y2="404.5"/>
<rect x="1579.33" y="382.5" width="5" height="15.3" fill="#000" stroke="none"/>
<line x1="1587.50" y1="331.7" x2="1587.50" y2="405.5"/>
<rect x="1585.46" y="340.8" width="5" height="57.0" fill="#fff"/>
<line x1="1594.50" y1="312.0" x2="1594.50" y2="364.5"/>
<rect x="1591.59" y="340.1" width="5" height="1.1" fill="#fff"/>
<line x1="1600.50" y1="315.3" x2="1600.50" y2="344.7"/>
<rect x="1597.72" y="323.0" width="5" height="17.0" fill="#fff"/>
</g>
<path d="M0.0,117.5 L6.0,115.7 L17.6,114.6 L29.3,114.8 L42.0,116.7 L56.0,116.5 L70.0,118.0 L82.0,120.4 L93.7,124.0 L105.4,126.5 L117.0,129.8 L129.0,133.7 L140.6,137.8 L152.0,140.3 L164.0,143.0 L175.7,145.6 L187.5,148.0 L200.0,150.2 L233.0,159.2 L266.7,169.2 L286.7,176.7 L303.3,184.2 L320.0,188.3 L336.7,189.7 L353.3,190.8 L370.0,192.8 L386.7,195.0 L403.3,196.7 L420.0,200.5 L436.7,206.7 L453.3,212.2 L470.0,217.2 L486.7,221.3 L503.3,224.2 L520.0,227.5 L536.7,230.8 L556.7,233.7 L573.3,235.8 L590.0,238.8 L606.7,242.5 L623.3,247.0 L640.0,250.8 L656.7,253.3 L670.0,255.0 L685.0,254.5 L698.3,251.7 L715.0,250.3 L728.3,247.8 L740.0,248.0 L756.7,249.2 L773.3,251.7 L790.0,253.7 L806.7,256.2 L817.5,257.3 L837.5,263.3 L862.5,269.5 L882.5,275.8 L907.5,281.3 L935.0,290.0 L955.0,299.3 L975.0,307.0 L1000.0,315.0 L1017.5,326.3 L1037.5,337.5 L1060.0,348.8 L1076.7,357.5 L1093.3,367.0 L1110.0,379.2 L1126.7,389.2 L1143.3,400.8 L1160.0,411.7 L1176.7,420.8 L1193.3,429.2 L1210.0,436.2 L1226.7,442.8 L1241.7,448.0 L1258.3,452.2 L1275.0,455.8 L1291.7,461.7 L1308.3,467.5 L1325.0,469.7 L1341.7,470.8 L1358.3,470.3 L1375.0,469.7 L1391.7,468.8 L1408.3,469.2 L1425.0,468.1 L1441.7,464.7 L1458.3,461.9 L1475.0,460.5 L1491.7,459.3 L1508.0,458.4 L1516.7,458.0 L1533.3,455.3 L1550.0,453.8 L1566.7,451.7 L1583.3,450.8 L1600.0,449.3" fill="none" stroke="#1a5ab5" stroke-width="1.1" stroke-linejoin="round"/>
<path d="M0.0,70.9 L11.7,72.4 L23.4,73.2 L35.0,76.0 L46.9,80.8 L58.6,85.4 L70.3,92.3 L82.0,102.8 L93.7,114.0 L105.4,125.7 L117.2,137.4 L128.9,151.5 L140.6,165.5 L150.0,175.8 L166.7,190.8 L183.3,206.2 L200.0,220.0 L216.7,235.0 L233.3,248.3 L246.7,261.7 L258.3,270.0 L270.0,276.0 L286.7,286.3 L303.3,297.5 L316.7,304.2 L325.0,306.7 L336.7,305.5 L350.0,300.8 L363.3,299.2 L375.0,295.8 L386.7,289.2 L396.7,280.8 L408.3,273.3 L420.0,265.8 L436.7,259.2 L453.3,253.3 L470.0,245.8 L486.7,238.3 L503.3,230.0 L520.0,220.8 L536.7,212.5 L556.7,202.5 L573.3,197.5 L590.0,193.3 L606.7,190.8 L618.3,190.0 L630.0,192.5 L640.0,197.5 L653.3,205.0 L666.7,210.3 L680.0,213.3 L691.7,215.8 L698.3,219.2 L706.7,223.3 L715.0,227.5 L731.7,232.5 L748.3,240.8 L765.0,250.0 L781.7,260.8 L798.3,272.5 L815.0,285.5 L824.0,294.2 L832.5,305.5 L850.0,323.8 L865.0,337.5 L882.5,352.5 L900.0,365.0 L913.8,375.5 L925.0,382.5 L941.7,392.5 L958.3,399.8 L976.7,407.0 L993.3,412.5 L1006.7,418.3 L1018.3,428.3 L1031.7,438.3 L1046.7,448.3 L1058.3,454.0 L1068.3,459.2 L1085.0,466.7 L1098.3,472.5 L1110.0,480.0 L1121.7,487.2 L1135.0,490.0 L1151.7,495.8 L1171.7,500.3 L1190.0,500.3 L1210.0,502.8 L1226.7,504.2 L1241.7,506.7 L1258.3,505.3 L1275.0,507.5 L1291.7,515.0 L1305.0,518.8 L1313.3,517.5 L1325.0,511.7 L1341.7,500.8 L1355.0,492.2 L1366.7,486.7 L1383.3,476.7 L1400.0,466.8 L1416.7,456.8 L1433.3,444.2 L1450.0,432.5 L1458.3,428.0 L1471.7,422.0 L1483.3,419.2 L1500.0,417.0 L1516.7,413.8 L1530.0,409.2 L1545.0,403.3 L1558.3,399.7 L1575.0,396.7 L1583.3,394.2 L1591.7,389.2 L1600.0,384.5" fill="none" stroke="#ff9216" stroke-width="1.0" stroke-linejoin="round"/>
<path d="M0.0,234.7 L16.7,228.3 L33.3,222.8 L50.0,218.3 L66.7,213.8 L78.3,211.3 L100.0,209.2 L116.7,207.5 L133.3,205.8 L150.0,203.3 L166.7,201.2 L180.0,199.2 L200.0,198.3 L216.7,198.7 L233.3,198.3 L250.0,197.5 L266.7,196.7 L286.7,195.8 L303.3,195.5 L323.3,195.0 L336.7,193.3 L353.3,190.8 L370.0,188.3 L386.7,186.7 L403.3,185.3 L420.0,184.7 L436.7,185.0 L453.3,184.2 L470.0,183.3 L486.7,182.5 L503.3,181.7 L520.0,180.3 L536.7,179.5 L554.0,180.0 L573.3,181.3 L606.7,180.8 L620.0,180.8 L640.0,183.0 L656.7,184.7 L673.3,185.8 L690.0,186.7 L706.7,187.2 L723.3,188.0 L740.0,190.8 L756.7,194.2 L773.3,196.7 L790.0,199.5 L806.7,202.2 L825.0,205.7 L850.0,212.5 L875.0,220.0 L900.0,228.0 L925.0,236.3 L950.0,243.0 L975.0,249.3 L1000.0,255.5 L1012.5,259.5 L1025.0,265.0 L1050.0,276.3 L1075.0,287.0 L1100.0,297.5 L1125.0,307.0 L1150.0,317.0 L1175.0,327.0 L1200.0,335.0 L1225.0,342.5 L1241.7,348.0 L1258.3,351.7 L1275.0,354.7 L1291.7,358.3 L1305.0,360.0 L1325.0,360.0 L1341.7,359.7 L1358.3,359.5 L1375.0,360.0 L1391.7,360.8 L1408.3,361.6 L1433.3,362.2 L1458.3,363.5 L1475.0,365.0 L1500.0,367.5 L1533.3,370.8 L1566.7,375.5 L1600.0,380.5" fill="none" stroke="#ff18f0" stroke-width="1.2" stroke-linejoin="round"/>
<rect x="0" y="323" width="1636.5" height="1" fill="#2f4b72"/>
<rect x="0" y="326" width="1636.5" height="2" fill="#ff8800"/>
</g>
<g font-size="11" fill="#555" >
<text x="1644" y="38.4">113.5000</text>
<text x="1644" y="75.1">113.0000</text>
<text x="1644" y="111.8">112.5000</text>
<text x="1644" y="148.6">112.0000</text>
<text x="1644" y="185.3">111.5000</text>
<text x="1644" y="222.1">111.0000</text>
<text x="1644" y="258.9">110.5000</text>
<text x="1644" y="295.6">110.0000</text>
<text x="1644" y="332.4">109.5000</text>
<text x="1644" y="369.1">109.0000</text>
<text x="1644" y="405.9">108.5000</text>
<text x="1644" y="442.6">108.0000</text>
<text x="1644" y="479.4">107.5000</text>
<text x="1644" y="516.1">107.0000</text>
<text x="1644" y="552.9">106.5000</text>
<text x="1644" y="589.6">106.0000</text>
<text x="1644" y="626.4">105.5000</text>
<text x="1644" y="663.1">105.0000</text>
<text x="1644" y="699.9">104.5000</text>
</g>
<g stroke="#686868" stroke-width="1">
<line x1="1637" y1="34.25" x2="1642" y2="34.25"/>
<line x1="1637" y1="71.00" x2="1642" y2="71.00"/>
<line x1="1637" y1="107.75" x2="1642" y2="107.75"/>
<line x1="1637" y1="144.50" x2="1642" y2="144.50"/>
<line x1="1637" y1="181.25" x2="1642" y2="181.25"/>
<line x1="1637" y1="218.00" x2="1642" y2="218.00"/>
<line x1="1637" y1="254.75" x2="1642" y2="254.75"/>
<line x1="1637" y1="291.50" x2="1642" y2="291.50"/>
<line x1="1637" y1="328.25" x2="1642" y2="328.25"/>
<line x1="1637" y1="365.00" x2="1642" y2="365.00"/>
<line x1="1637" y1="401.75" x2="1642" y2="401.75"/>
<line x1="1637" y1="438.50" x2="1642" y2="438.50"/>
<line x1="1637" y1="475.25" x2="1642" y2="475.25"/>
<line x1="1637" y1="512.00" x2="1642" y2="512.00"/>
<line x1="1637" y1="548.75" x2="1642" y2="548.75"/>
<line x1="1637" y1="585.50" x2="1642" y2="585.50"/>
<line x1="1637" y1="622.25" x2="1642" y2="622.25"/>
<line x1="1637" y1="659.00" x2="1642" y2="659.00"/>
<line x1="1637" y1="695.75" x2="1642" y2="695.75"/>
</g>
<g font-size="11" fill="#555" text-anchor="middle">
<text x="0.5" y="735" text-anchor="start">'18</text>
<text x="36.8" y="735">24</text>
<text x="73.6" y="735">'19</text>
<text x="104.3" y="735">8</text>
<text x="134.9" y="735">15</text>
<text x="165.6" y="735">22</text>
<text x="214.6" y="735">Feb</text>
<text x="245.3" y="735">8</text>
<text x="275.9" y="735">15</text>
<text x="306.6" y="735">22</text>
<text x="337.2" y="735">Mar</text>
<text x="367.9" y="735">8</text>
<text x="398.5" y="735">15</text>
<text x="429.2" y="735">22</text>
<text x="466.0" y="735">Apr</text>
<text x="496.6" y="735">8</text>
<text x="527.3" y="735">15</text>
<text x="557.9" y="735">22</text>
<text x="600.9" y="735">May</text>
<text x="631.5" y="735">8</text>
<text x="662.2" y="735">15</text>
<text x="692.8" y="735">22</text>
<text x="741.9" y="735">Jun</text>
<text x="772.5" y="735">10</text>
<text x="803.2" y="735">17</text>
<text x="833.8" y="735">24</text>
<text x="864.5" y="735">Jul</text>
<text x="895.2" y="735">8</text>
<text x="925.8" y="735">15</text>
<text x="956.5" y="735">22</text>
<text x="1005.5" y="735">Aug</text>
<text x="1036.2" y="735">8</text>
<text x="1066.8" y="735">15</text>
<text x="1097.5" y="735">22</text>
<text x="1140.4" y="735">Sep</text>
<text x="1171.0" y="735">9</text>
<text x="1201.7" y="735">16</text>
<text x="1232.4" y="735">23</text>
<text x="1269.1" y="735">Oct</text>
<text x="1299.8" y="735">8</text>
<text x="1330.5" y="735">15</text>
<text x="1361.1" y="735">22</text>
<text x="1410.2" y="735">Nov</text>
<text x="1440.8" y="735">8</text>
<text x="1471.5" y="735">15</text>
<text x="1502.1" y="735">22</text>
<text x="1538.9" y="735">Dec</text>
<text x="1569.6" y="735">9</text>
<text x="1600.2" y="735">16</text>
<text x="1630.9" y="735">23</text>
</g>
<g stroke="#666" stroke-width="1" shape-rendering="crispEdges">
<line x1="36.5" y1="719" x2="36.5" y2="721"/>
<line x1="73.5" y1="719" x2="73.5" y2="721"/>
<line x1="104.5" y1="719" x2="104.5" y2="721"/>
<line x1="134.5" y1="719" x2="134.5" y2="721"/>
<line x1="165.5" y1="719" x2="165.5" y2="721"/>
<line x1="214.5" y1="719" x2="214.5" y2="721"/>
<line x1="245.5" y1="719" x2="245.5" y2="721"/>
<line x1="275.5" y1="719" x2="275.5" y2="721"/>
<line x1="306.5" y1="719" x2="306.5" y2="721"/>
<line x1="337.5" y1="719" x2="337.5" y2="721"/>
<line x1="367.5" y1="719" x2="367.5" y2="721"/>
<line x1="398.5" y1="719" x2="398.5" y2="721"/>
<line x1="429.5" y1="719" x2="429.5" y2="721"/>
<line x1="465.5" y1="719" x2="465.5" y2="721"/>
<line x1="496.5" y1="719" x2="496.5" y2="721"/>
<line x1="527.5" y1="719" x2="527.5" y2="721"/>
<line x1="557.5" y1="719" x2="557.5" y2="721"/>
<line x1="600.5" y1="719" x2="600.5" y2="721"/>
<line x1="631.5" y1="719" x2="631.5" y2="721"/>
<line x1="662.5" y1="719" x2="662.5" y2="721"/>
<line x1="692.5" y1="719" x2="692.5" y2="721"/>
<line x1="741.5" y1="719" x2="741.5" y2="721"/>
<line x1="772.5" y1="719" x2="772.5" y2="721"/>
<line x1="803.5" y1="719" x2="803.5" y2="721"/>
<line x1="833.5" y1="719" x2="833.5" y2="721"/>
<line x1="864.5" y1="719" x2="864.5" y2="721"/>
<line x1="895.5" y1="719" x2="895.5" y2="721"/>
<line x1="925.5" y1="719" x2="925.5" y2="721"/>
<line x1="956.5" y1="719" x2="956.5" y2="721"/>
<line x1="1005.5" y1="719" x2="1005.5" y2="721"/>
<line x1="1036.5" y1="719" x2="1036.5" y2="721"/>
<line x1="1066.5" y1="719" x2="1066.5" y2="721"/>
<line x1="1097.5" y1="719" x2="1097.5" y2="721"/>
<line x1="1140.5" y1="719" x2="1140.5" y2="721"/>
<line x1="1171.5" y1="719" x2="1171.5" y2="721"/>
<line x1="1201.5" y1="719" x2="1201.5" y2="721"/>
<line x1="1232.5" y1="719" x2="1232.5" y2="721"/>
<line x1="1269.5" y1="719" x2="1269.5" y2="721"/>
<line x1="1299.5" y1="719" x2="1299.5" y2="721"/>
<line x1="1330.5" y1="719" x2="1330.5" y2="721"/>
<line x1="1361.5" y1="719" x2="1361.5" y2="721"/>
<line x1="1410.5" y1="719" x2="1410.5" y2="721"/>
<line x1="1440.5" y1="719" x2="1440.5" y2="721"/>
<line x1="1471.5" y1="719" x2="1471.5" y2="721"/>
<line x1="1502.5" y1="719" x2="1502.5" y2="721"/>
<line x1="1538.5" y1="719" x2="1538.5" y2="721"/>
<line x1="1569.5" y1="719" x2="1569.5" y2="721"/>
<line x1="1600.5" y1="719" x2="1600.5" y2="721"/>
<line x1="1630.5" y1="719" x2="1630.5" y2="721"/>
</g>
<path d="M1637.3,323.5 L1639.8,320.5 L1639.8,315.5 L1694.2,315.5 L1694.2,330.4 L1639.8,330.4 L1639.8,326.5 Z" fill="#2d4a73"/>
<text x="1644.6" y="327.9" font-size="11" font-weight="bold" fill="#fff">109.5705</text>
<rect x="5" y="5" width="77" height="22" fill="rgba(0,0,0,0.6)"/>
<rect x="5" y="5" width="3" height="22" fill="#000"/>
<text x="17" y="21.2" font-size="11" font-weight="bold" fill="#fff">USD/JPY</text>
<rect x="5" y="32" width="85" height="22" fill="rgba(0,0,0,0.6)"/>
<rect x="5" y="32" width="3" height="22" fill="#ff8c00"/>
<text x="17" y="48.2" font-size="11" font-weight="bold" fill="#fff">SMA (50,0)</text>
<rect x="5" y="59" width="91" height="22" fill="rgba(0,0,0,0.6)"/>
<rect x="5" y="59" width="3" height="22" fill="#0a50c0"/>
<text x="17" y="75.2" font-size="11" font-weight="bold" fill="#fff">SMA (100,0)</text>
<rect x="5" y="86" width="91" height="22" fill="rgba(0,0,0,0.6)"/>
<rect x="5" y="86" width="3" height="22" fill="#ff00ff"/>
<text x="17" y="102.2" font-size="11" font-weight="bold" fill="#fff">SMA (200,0)</text>
</svg></body></html>
